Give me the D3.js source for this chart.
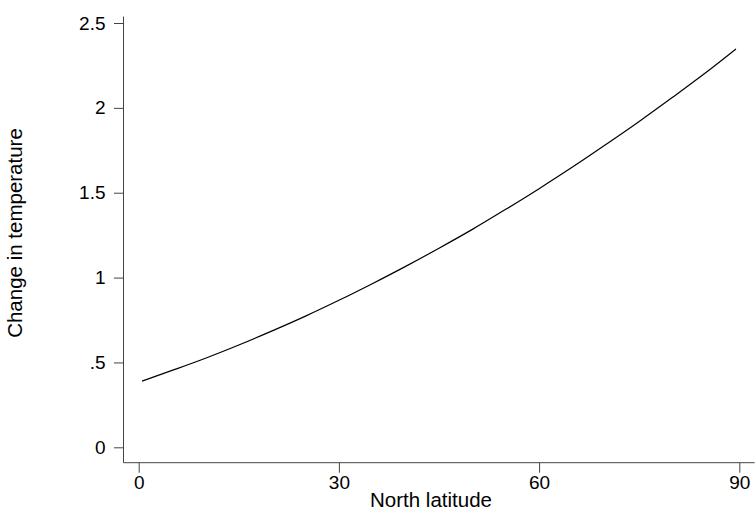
<!DOCTYPE html>
<html><head><meta charset="utf-8">
<script src="https://cdn.jsdelivr.net/npm/d3@7"></script>
<style>body{margin:0;background:#fff}svg{display:block}</style>
</head><body>
<svg id="c" width="755" height="512"></svg>
<script>
const latitude = [0.5, 5, 10, 15, 20, 25, 30, 35, 40, 45, 50, 55, 60, 65, 70, 75, 80, 85, 89.5];
const tempChange = [0.39, 0.453, 0.525, 0.603, 0.686, 0.773, 0.866, 0.964, 1.066, 1.173, 1.284, 1.402, 1.524, 1.651, 1.784, 1.92, 2.062, 2.208, 2.347];
const xTicks = [0, 30, 60, 90];
const yTicks = [0, 0.5, 1, 1.5, 2, 2.5];
const yTickLabels = ["0", ".5", "1", "1.5", "2", "2.5"];
const xTitle = "North latitude";
const yTitle = "Change in temperature";

const svg = d3.select("#c");
const font = "'Liberation Sans', Arial, Helvetica, sans-serif";
const fs = 19;
const tfs = 20.5;

const x = d3.scaleLinear().domain([0, 90]).range([138.7, 739.3]);
const y = d3.scaleLinear().domain([0, 2.5]).range([447.3, 23]);

const axX = 123.5, axY = 462.7;
const axisColor = "#444";

// axis lines
svg.append("line").attr("x1", axX).attr("x2", axX)
  .attr("y1", y(2.538)).attr("y2", axY)
  .attr("stroke", axisColor).attr("stroke-width", 1);
svg.append("line").attr("x1", axX).attr("x2", x(92.3))
  .attr("y1", axY).attr("y2", axY)
  .attr("stroke", axisColor).attr("stroke-width", 1);

const gy = svg.append("g").attr("transform", `translate(${axX},0)`)
  .call(d3.axisLeft(y).tickValues(yTicks).tickFormat((d, i) => yTickLabels[i])
    .tickSize(9.5).tickSizeOuter(0).tickPadding(8.5));
gy.select(".domain").remove();

const gx = svg.append("g").attr("transform", `translate(0,${axY})`)
  .call(d3.axisBottom(x).tickValues(xTicks).tickFormat(d3.format("d"))
    .tickSize(10).tickSizeOuter(0).tickPadding(3));
gx.select(".domain").remove();

svg.selectAll(".tick line").attr("stroke", axisColor).attr("stroke-width", 1);
svg.selectAll(".tick text").attr("font-family", font).attr("font-size", fs).attr("fill", "#000");

// line
const pts = latitude.map((d, i) => [d, tempChange[i]]);
svg.append("path").datum(pts)
  .attr("fill", "none").attr("stroke", "#000").attr("stroke-width", 1.2)
  .attr("d", d3.line().x(d => x(d[0])).y(d => y(d[1])).curve(d3.curveMonotoneX));

// titles
svg.append("text").attr("x", 431).attr("y", 507)
  .attr("text-anchor", "middle").attr("font-family", font).attr("font-size", tfs)
  .text(xTitle);
svg.append("text").attr("transform", "translate(22,233) rotate(-90)")
  .attr("text-anchor", "middle").attr("font-family", font).attr("font-size", tfs)
  .text(yTitle);
</script>
</body></html>
